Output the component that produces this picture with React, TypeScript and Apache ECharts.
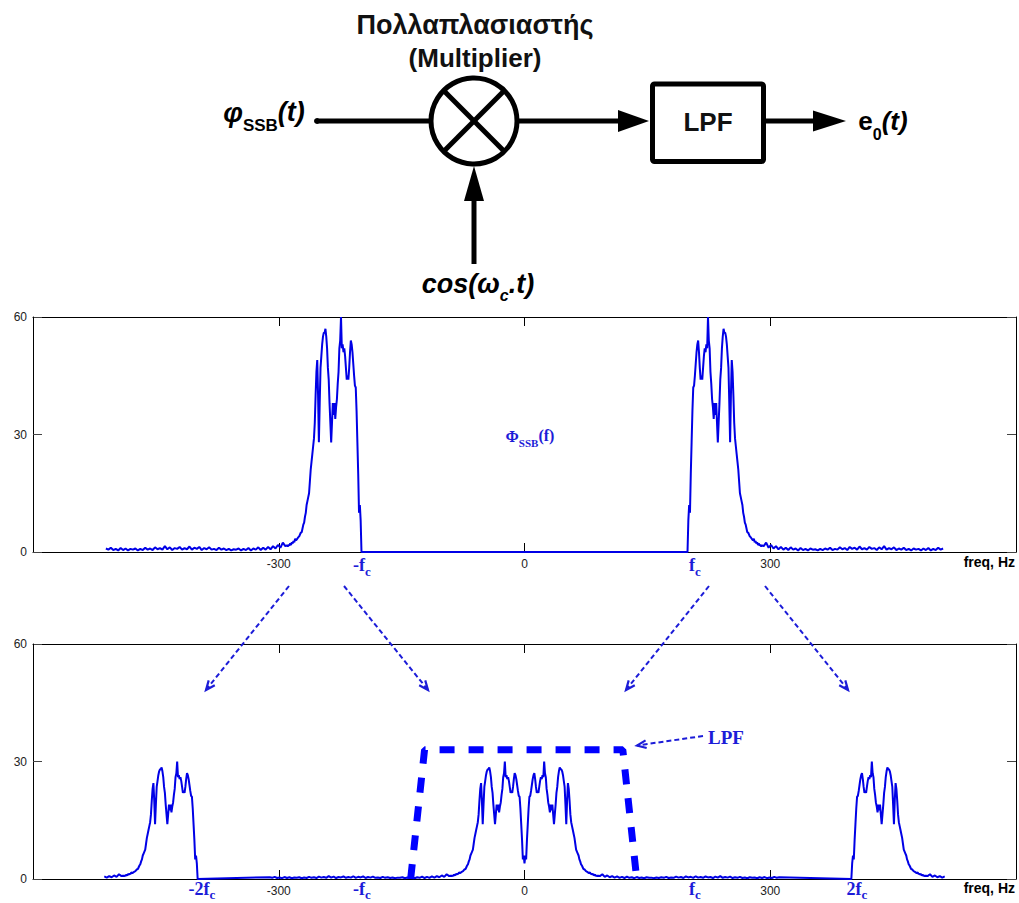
import React, { useEffect, useRef } from 'react';
import * as echarts from 'echarts';

// ---------------- data ----------------
const fcHz = 200; // carrier frequency f_c
const xTicks = [-600, -300, 0, 300, 600];
const yTicks = [0, 30, 60];

// |Φ_SSB(f)| of the upper sideband, 1 Hz steps starting at 199 Hz
const bandStartHz = 199;
const bandValues = [
  0, 8, 12, 10, 20, 28, 36, 42, 42.5, 45, 48, 51, 53, 54, 51, 47, 44, 45, 44, 47,
  50, 52, 51, 53, 52, 60, 54, 52, 46, 43, 39, 37, 34, 38, 35, 38, 33, 28, 33, 38,
  44, 47, 52, 55, 57, 56, 56, 55, 53, 50, 47, 38, 28, 40, 49, 46, 40, 33, 29, 27,
  25, 23, 21, 18, 15, 14, 13, 12, 10, 9, 7.5, 7, 6, 5, 5, 4.5, 4, 3.8, 3.5, 3.2,
  3, 3.4, 2.5, 2.8, 2.2, 2.5, 1.8, 2.2, 1.6, 1.9, 1.4, 1.7,
];
// noise tail of the same sideband, 3 Hz steps starting at 292 Hz
const tailStartHz = 292;
const tailStepHz = 3;
const tailValues = [
  1.5, 2.4, 1.1, 1.8, 0.9, 1.5, 0.7, 1.3, 0.6, 1.1, 0.5, 1.2, 0.6, 0.9, 0.4, 1.0,
  0.5, 0.8, 0.4, 0.9, 0.6, 0.7, 0.4, 0.8, 0.5, 0.9, 0.6, 1.1, 0.5, 0.8, 0.6, 1.2,
  0.7, 1.0, 0.5, 1.3, 0.8, 1.1, 0.6, 1.4, 0.7, 1.0, 0.6, 1.3, 0.8, 1.0, 0.5, 1.2,
  0.7, 1.5, 0.6, 1.0, 0.7, 1.2, 0.5, 0.9, 0.6, 1.1, 0.5, 0.8, 0.4, 0.9, 0.6, 0.8,
  0.4, 0.9, 0.5, 1.0, 0.4, 0.8, 0.5, 1.1, 0.6, 0.9,
];
// ideal low-pass filter drawn in the lower panel: [freq, level]
const lpfPoints: [number, number][] = [[-139, 0], [-122, 33], [120, 33], [137, 0]];

// ---------------- derived tables ----------------
type P = [number, number];
const usb: P[] = [
  ...bandValues.map((v, i) => [bandStartHz + i, v] as P),
  ...tailValues.map((v, i) => [tailStartHz + i * tailStepHz, v] as P),
];
const lsb: P[] = usb.slice().reverse().map(([f, v]) => [-f, v] as P);
const topData: P[] = [...lsb, ...usb];
// multiplying by cos(ωc t) shifts every component by ±fc with half amplitude
const shift = (pts: P[], d: number): P[] => pts.map(([f, v]) => [f + d, v / 2] as P);
const bottomData: P[] = [
  ...shift(lsb, -fcHz).filter(([f]) => f >= -514),
  ...shift(lsb, fcHz).filter(([f]) => f <= 0),
  ...shift(usb, -fcHz).filter(([f]) => f > 0),
  ...shift(usb, fcHz).filter(([f]) => f <= 514),
];

// ---------------- layout ----------------
const W = 1019;
const H = 903;
const gridLeft = 33;
const gridWidth = 987;
const gridHeight = 235;
const topGridTop = 317;
const botGridTop = 644;

const BLUE_LINE = '#0000e6';
const BLUE_TXT = '#1c1cd8';
const SANS = '"Liberation Sans", Arial, sans-serif';
const SERIF = '"Liberation Serif", "Times New Roman", serif';

let measureCtx: CanvasRenderingContext2D | null = null;
function textW(t: string, font: string): number {
  if (!measureCtx) measureCtx = document.createElement('canvas').getContext('2d');
  if (!measureCtx) return t.length * 10;
  measureCtx.font = font;
  return measureCtx.measureText(t).width;
}

function composite(cx: number, cy: number, parts: [string, string, number][], fill: string): any[] {
  const widths = parts.map(([t, f]) => textW(t, f));
  const total = widths.reduce((a, b) => a + b, 0);
  let x = cx - total / 2;
  return parts.map(([t, f, dy], i) => {
    const el = {
      type: 'text',
      x,
      y: cy + dy,
      z: 100,
      style: { text: t, font: f, fill, textAlign: 'left', textVerticalAlign: 'middle', align: 'left', verticalAlign: 'middle' },
    };
    x += widths[i];
    return el;
  });
}

function simpleText(x: number, y: number, t: string, font: string, fill: string, align = 'center'): any {
  return {
    type: 'text', x, y, z: 100,
    style: { text: t, font, fill, textAlign: align, textVerticalAlign: 'middle', align, verticalAlign: 'middle' },
  };
}

function seg(x1: number, y1: number, x2: number, y2: number, stroke: string, lineWidth: number, dash?: number[]): any {
  return {
    type: 'line', z: 100,
    shape: { x1, y1, x2, y2 },
    style: { stroke, lineWidth, lineDash: dash, lineCap: 'butt' },
  };
}

function vHead(tx: number, ty: number, fx: number, fy: number, len: number, ang: number): number[][] {
  const a = Math.atan2(fy - ty, fx - tx);
  return [
    [tx + len * Math.cos(a + ang), ty + len * Math.sin(a + ang)],
    [tx, ty],
    [tx + len * Math.cos(a - ang), ty + len * Math.sin(a - ang)],
  ];
}

function dashedArrow(fx: number, fy: number, tx: number, ty: number): any[] {
  return [
    seg(fx, fy, tx, ty, BLUE_TXT, 2, [5, 3]),
    {
      type: 'polyline', z: 100,
      shape: { points: vHead(tx, ty, fx, fy, 10, 0.4) },
      style: { stroke: BLUE_TXT, lineWidth: 2.2, fill: 'none' },
    },
  ];
}

function blockDiagram(): any[] {
  const k = '#000';
  const cx = 474, cy = 121, r = 43;
  const d = r * Math.SQRT1_2;
  const els: any[] = [];
  els.push(simpleText(475, 25, 'Πολλαπλασιαστής', `bold 27px ${SANS}`, '#111'));
  els.push(simpleText(475, 58, '(Multiplier)', `bold 26px ${SANS}`, '#111'));
  // input
  els.push(...composite(264, 112, [
    ['φ', `italic bold 28px ${SANS}`, 0],
    ['SSB', `bold 17px ${SANS}`, 13],
    ['(t)', `italic bold 27px ${SANS}`, 0],
  ], k));
  els.push({ type: 'circle', z: 100, shape: { cx: 317, cy: 121, r: 3 }, style: { fill: k } });
  els.push(seg(317, 121, cx - r, 121, k, 5));
  // multiplier
  els.push({ type: 'circle', z: 100, shape: { cx, cy, r }, style: { fill: 'none', stroke: k, lineWidth: 5 } });
  els.push(seg(cx - d, cy - d, cx + d, cy + d, k, 5));
  els.push(seg(cx + d, cy - d, cx - d, cy + d, k, 5));
  // to LPF
  els.push(seg(cx + r, 121, 622, 121, k, 5));
  els.push({ type: 'polygon', z: 100, shape: { points: [[649, 121], [618, 110], [618, 132]] }, style: { fill: k } });
  els.push({ type: 'rect', z: 100, shape: { x: 652.5, y: 84, width: 111, height: 77.5, r: 2 }, style: { fill: 'none', stroke: k, lineWidth: 5 } });
  els.push(simpleText(708, 122, 'LPF', `bold 26px ${SANS}`, '#111'));
  // output
  els.push(seg(766, 121, 816, 121, k, 5));
  els.push({ type: 'polygon', z: 100, shape: { points: [[846, 121], [813, 110.5], [813, 131.5]] }, style: { fill: k } });
  els.push(...composite(883, 121, [
    ['e', `bold 26px ${SANS}`, 0],
    ['0', `bold 16px ${SANS}`, 13],
    ['(t)', `italic bold 26px ${SANS}`, 0],
  ], k));
  // local oscillator
  els.push(seg(474, 264, 474, 196, k, 5));
  els.push({ type: 'polygon', z: 100, shape: { points: [[474, 166], [464, 201], [484, 201]] }, style: { fill: k } });
  els.push(...composite(478, 284, [
    ['cos(ω', `italic bold 27px ${SANS}`, 0],
    ['c', `italic bold 16px ${SANS}`, 11],
    ['.t)', `italic bold 27px ${SANS}`, 0],
  ], k));
  return els;
}

function annotations(): any[] {
  const els: any[] = [];
  const main = `bold 18px ${SERIF}`;
  const sub = `bold 13px ${SERIF}`;
  // top panel
  els.push(...composite(530, 436, [
    ['Φ', `bold 16px ${SERIF}`, 0],
    ['SSB', `bold 11px ${SERIF}`, 7],
    ['(f)', `bold 16px ${SERIF}`, -1],
  ], BLUE_TXT));
  els.push(...composite(362, 565, [['-f', main, 0], ['c', sub, 6]], BLUE_TXT));
  els.push(...composite(695, 565, [['f', main, 0], ['c', sub, 6]], BLUE_TXT));
  els.push(simpleText(1015, 562, 'freq, Hz', `bold 14px ${SANS}`, '#000', 'right'));
  // bottom panel
  const by = 889;
  els.push(...composite(202, by, [['-2f', main, 0], ['c', sub, 5]], BLUE_TXT));
  els.push(...composite(362, by, [['-f', main, 0], ['c', sub, 5]], BLUE_TXT));
  els.push(...composite(695, by, [['f', main, 0], ['c', sub, 5]], BLUE_TXT));
  els.push(...composite(857, by, [['2f', main, 0], ['c', sub, 5]], BLUE_TXT));
  els.push(simpleText(1015, 888, 'freq, Hz', `bold 14px ${SANS}`, '#000', 'right'));
  // LPF label
  els.push(simpleText(726, 737, 'LPF', `bold 19px ${SERIF}`, BLUE_TXT));
  els.push(...dashedArrow(703, 736, 637, 745.5));
  // frequency shift arrows
  els.push(...dashedArrow(289, 586, 206, 690));
  els.push(...dashedArrow(344, 586, 428, 690));
  els.push(...dashedArrow(709, 586, 626, 690));
  els.push(...dashedArrow(765, 586, 848, 690));
  return els;
}

function xAxisFor(gridIndex: number, position: 'top' | 'bottom'): any {
  return {
    type: 'value', gridIndex, position, min: xTicks[0], max: xTicks[xTicks.length - 1], interval: 300,
    axisLine: { show: true, onZero: false, lineStyle: { color: '#000', width: 1 } },
    axisTick: { show: true, inside: true, length: 9, lineStyle: { color: '#000', width: 1 } },
    axisLabel: position === 'bottom'
      ? {
          show: true, margin: 6, fontSize: 12, fontFamily: SANS, color: '#222',
          formatter: (v: number) => (v === xTicks[0] || v === xTicks[xTicks.length - 1] ? '' : String(v)),
        }
      : { show: false },
    splitLine: { show: false },
  };
}

function yAxisFor(gridIndex: number, position: 'left' | 'right'): any {
  return {
    type: 'value', gridIndex, position, min: yTicks[0], max: yTicks[yTicks.length - 1], interval: 30,
    axisLine: { show: true, onZero: false, lineStyle: { color: '#000', width: 1 } },
    axisTick: { show: true, inside: true, length: 9, lineStyle: { color: '#444', width: 1 } },
    axisLabel: position === 'left'
      ? { show: true, margin: 6, fontSize: 12, fontFamily: SANS, color: '#222' }
      : { show: false },
    splitLine: { show: false },
  };
}

export default function App() {
  const ref = useRef<HTMLDivElement>(null);
  useEffect(() => {
    if (!ref.current) return;
    const chart = echarts.init(ref.current, null, { renderer: 'svg' });
    chart.setOption({
      animation: false,
      backgroundColor: '#fff',
      grid: [
        { left: gridLeft, top: topGridTop, width: gridWidth, height: gridHeight },
        { left: gridLeft, top: botGridTop, width: gridWidth, height: gridHeight },
      ],
      xAxis: [xAxisFor(0, 'bottom'), xAxisFor(0, 'top'), xAxisFor(1, 'bottom'), xAxisFor(1, 'top')],
      yAxis: [yAxisFor(0, 'left'), yAxisFor(0, 'right'), yAxisFor(1, 'left'), yAxisFor(1, 'right')],
      series: [
        {
          type: 'line', name: 'Φ_SSB(f)', xAxisIndex: 0, yAxisIndex: 0, data: topData,
          symbol: 'none', showSymbol: false, clip: false,
          lineStyle: { color: BLUE_LINE, width: 2 }, z: 3,
        },
        {
          type: 'line', name: 'product', xAxisIndex: 2, yAxisIndex: 2, data: bottomData,
          symbol: 'none', showSymbol: false, clip: false,
          lineStyle: { color: BLUE_LINE, width: 2 }, z: 3,
        },
        {
          type: 'line', name: 'LPF', xAxisIndex: 2, yAxisIndex: 2, data: lpfPoints,
          symbol: 'none', showSymbol: false, clip: true,
          lineStyle: { color: '#0000ff', width: 7, type: [15, 14], cap: 'butt' }, z: 4,
        },
      ],
      graphic: { elements: [...blockDiagram(), ...annotations()] },
    });
    return () => chart.dispose();
  }, []);
  return (
    <div
      ref={ref}
      style={{ position: 'absolute', left: 0, top: 0, width: W, height: H, background: '#fff' }}
    />
  );
}
